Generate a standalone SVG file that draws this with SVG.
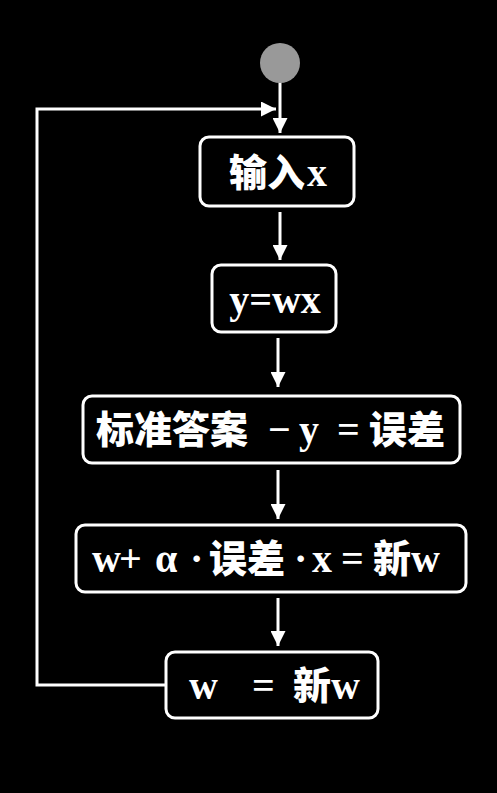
<svg xmlns="http://www.w3.org/2000/svg" width="497" height="793" viewBox="0 0 497 793">
<style>
.box{fill:#000;stroke:#fff;stroke-width:3}
.ln{fill:none;stroke:#fff;stroke-width:3}
.t{fill:#fff;font-family:"Liberation Serif","Noto Sans CJK SC",serif;font-weight:bold;font-size:40px}
.c{font-family:"Noto Sans CJK SC","Liberation Serif",serif;font-weight:900;font-size:38px}
</style>
<defs>
<marker id="ah" viewBox="0 0 10 10" refX="10" refY="5" markerWidth="5" markerHeight="5" orient="auto" markerUnits="strokeWidth">
<path d="M0,0 L10,5 L0,10 Z" fill="#fff"/>
</marker>
</defs>
<rect width="497" height="793" fill="#000"/>
<g id="connectors">
<line class="ln" x1="280" y1="82" x2="280" y2="133" marker-end="url(#ah)"/>
<polyline class="ln" points="166,685 37,685 37,109 276,109" marker-end="url(#ah)"/>
<line class="ln" x1="280" y1="212" x2="280" y2="260" marker-end="url(#ah)"/>
<line class="ln" x1="278" y1="338" x2="278" y2="387" marker-end="url(#ah)"/>
<line class="ln" x1="278" y1="470" x2="278" y2="519" marker-end="url(#ah)"/>
<line class="ln" x1="278" y1="598" x2="278" y2="646" marker-end="url(#ah)"/>
</g>
<g id="start"><circle cx="280" cy="63" r="20" fill="#999"/></g>
<g id="n1">
<rect class="box" x="200" y="137" width="154" height="69" rx="9"/>
<text class="t" y="186"><tspan class="c" x="229">输入</tspan><tspan x="307">x</tspan></text>
</g>
<g id="n2">
<rect class="box" x="212" y="265" width="124" height="67" rx="9"/>
<text class="t" x="275" y="313" text-anchor="middle" font-size="42">y=wx</text>
</g>
<g id="n3">
<rect class="box" x="83" y="396" width="377" height="67" rx="9"/>
<text class="t" y="443"><tspan class="c" x="96">标准答案</tspan><tspan x="268">−</tspan><tspan x="299">y</tspan><tspan x="337">=</tspan><tspan class="c" x="369">误差</tspan></text>
</g>
<g id="n4">
<rect class="box" x="76" y="525" width="390" height="67" rx="9"/>
<text class="t" y="572"><tspan x="92">w</tspan><tspan x="119">+</tspan><tspan x="155">α</tspan><tspan x="190">·</tspan><tspan class="c" x="209">误差</tspan><tspan x="294">·</tspan><tspan x="312">x</tspan><tspan x="341">=</tspan><tspan class="c" x="373">新</tspan><tspan x="411">w</tspan></text>
</g>
<g id="n5">
<rect class="box" x="166" y="652" width="212" height="66" rx="9"/>
<text class="t" y="699"><tspan x="189">w</tspan><tspan x="252">=</tspan><tspan class="c" x="293">新</tspan><tspan x="331">w</tspan></text>
</g>
</svg>
